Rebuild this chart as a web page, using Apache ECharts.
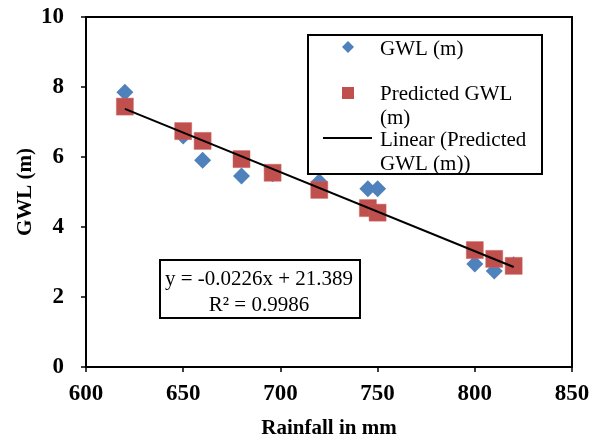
<!DOCTYPE html>
<html>
<head>
<meta charset="utf-8">
<script src="https://cdn.jsdelivr.net/npm/echarts@6/dist/echarts.min.js"></script>
<style>html,body{margin:0;padding:0;background:#fff}#c{width:589px;height:438px}</style>
</head>
<body>
<div id="c"></div>
<script>
const rainfall = [620, 650, 660, 680, 696, 720, 745, 750, 800, 810, 820];
const gwl = [7.85, 6.6, 5.91, 5.46, 5.52, 5.29, 5.09, 5.09, 2.94, 2.74, 2.92];
const predicted = [7.44, 6.74, 6.46, 5.94, 5.55, 5.06, 4.54, 4.41, 3.34, 3.09, 2.89];
const slope = -0.0226;
const intercept = 21.389;
const r2Text = 'R² = 0.9986';
const eqText = 'y = -0.0226x + 21.389';
const xTicks = [600, 650, 700, 750, 800, 850];
const yTicks = [0, 2, 4, 6, 8, 10];
const seriesNames = ['GWL (m)', 'Predicted GWL (m)', 'Linear (Predicted GWL (m))'];

const FONT = '"Liberation Serif", "Times New Roman", serif';
const BLUE = '#4F81BD', RED = '#C0504D';

const xMin = Math.min(...rainfall), xMax = Math.max(...rainfall);
const trend = [[xMin, intercept + slope * xMin], [xMax, intercept + slope * xMax]];

const chart = echarts.init(document.getElementById('c'));
chart.setOption({
  animation: false,
  backgroundColor: '#fff',
  grid: { left: 86, right: 17, top: 17, bottom: 71, show: true, borderColor: '#000', borderWidth: 2,
          containLabel: false, outerBoundsMode: 'none' },
  xAxis: {
    type: 'value', min: xTicks[0], max: xTicks[xTicks.length - 1], interval: 50,
    name: 'Rainfall in mm', nameLocation: 'middle', nameGap: 51, nameMoveOverlap: false,
    nameTextStyle: { fontFamily: FONT, fontWeight: 'bold', fontSize: 21, color: '#000' },
    axisLine: { lineStyle: { color: '#000', width: 2 } },
    axisTick: { show: true, length: 5, lineStyle: { color: '#000', width: 1.5 } },
    axisLabel: { fontFamily: FONT, fontWeight: 'bold', fontSize: 23, color: '#000', margin: 16 },
    splitLine: { show: false }
  },
  yAxis: {
    type: 'value', min: yTicks[0], max: yTicks[yTicks.length - 1], interval: 2,
    name: 'GWL (m)', nameLocation: 'middle', nameGap: 50, nameRotate: 90, nameMoveOverlap: false,
    nameTextStyle: { fontFamily: FONT, fontWeight: 'bold', fontSize: 21, color: '#000' },
    axisLine: { lineStyle: { color: '#000', width: 2 } },
    axisTick: { show: true, length: 5, lineStyle: { color: '#000', width: 1.5 } },
    axisLabel: { fontFamily: FONT, fontWeight: 'bold', fontSize: 23, color: '#000', margin: 22 },
    splitLine: { show: false }
  },
  legend: { show: false },
  series: [
    {
      name: seriesNames[0], type: 'scatter', symbol: 'diamond', symbolSize: [17, 17],
      itemStyle: { color: BLUE, opacity: 1 },
      data: rainfall.map((x, i) => [x, gwl[i]]), z: 2
    },
    {
      name: seriesNames[1], type: 'scatter', symbol: 'rect', symbolSize: 17,
      itemStyle: { color: RED, opacity: 1, borderColor: '#C86461', borderWidth: 0.5 },
      data: rainfall.map((x, i) => [x, predicted[i]]), z: 3
    },
    {
      name: seriesNames[2], type: 'line', data: trend, symbol: 'none',
      lineStyle: { color: '#000', width: 2 }, z: 4
    }
  ],
  graphic: [
    { type: 'rect', shape: { x: 308, y: 35, width: 234, height: 139 }, style: { fill: '#fff', stroke: '#000', lineWidth: 2 }, z: 10 },
    { type: 'polygon', shape: { points: [[348, 41], [354, 47], [348, 53], [342, 47]] }, style: { fill: BLUE }, z: 11 },
    { type: 'rect', shape: { x: 342, y: 87, width: 12, height: 12 }, style: { fill: RED }, z: 11 },
    { type: 'line', shape: { x1: 323, y1: 138, x2: 372, y2: 138 }, style: { stroke: '#000', lineWidth: 2 }, z: 11 },
    { type: 'text', x: 380, y: 49, style: { text: 'GWL (m)', font: '21px ' + FONT, fill: '#000', verticalAlign: 'middle' }, z: 11 },
    { type: 'text', x: 380, y: 94, style: { text: 'Predicted GWL', font: '21px ' + FONT, fill: '#000', verticalAlign: 'middle' }, z: 11 },
    { type: 'text', x: 380, y: 118, style: { text: '(m)', font: '21px ' + FONT, fill: '#000', verticalAlign: 'middle' }, z: 11 },
    { type: 'text', x: 380, y: 140, style: { text: 'Linear (Predicted', font: '21px ' + FONT, fill: '#000', verticalAlign: 'middle' }, z: 11 },
    { type: 'text', x: 380, y: 164, style: { text: 'GWL (m))', font: '21px ' + FONT, fill: '#000', verticalAlign: 'middle' }, z: 11 },
    { type: 'rect', shape: { x: 160, y: 260, width: 200, height: 58 }, style: { fill: '#fff', stroke: '#000', lineWidth: 2 }, z: 10 },
    { type: 'text', x: 259, y: 279, style: { text: eqText, font: '21px ' + FONT, fill: '#000', align: 'center', verticalAlign: 'middle' }, z: 11 },
    { type: 'text', x: 259, y: 305, style: { text: r2Text, font: '21px ' + FONT, fill: '#000', align: 'center', verticalAlign: 'middle' }, z: 11 }
  ]
});
</script>
</body>
</html>
